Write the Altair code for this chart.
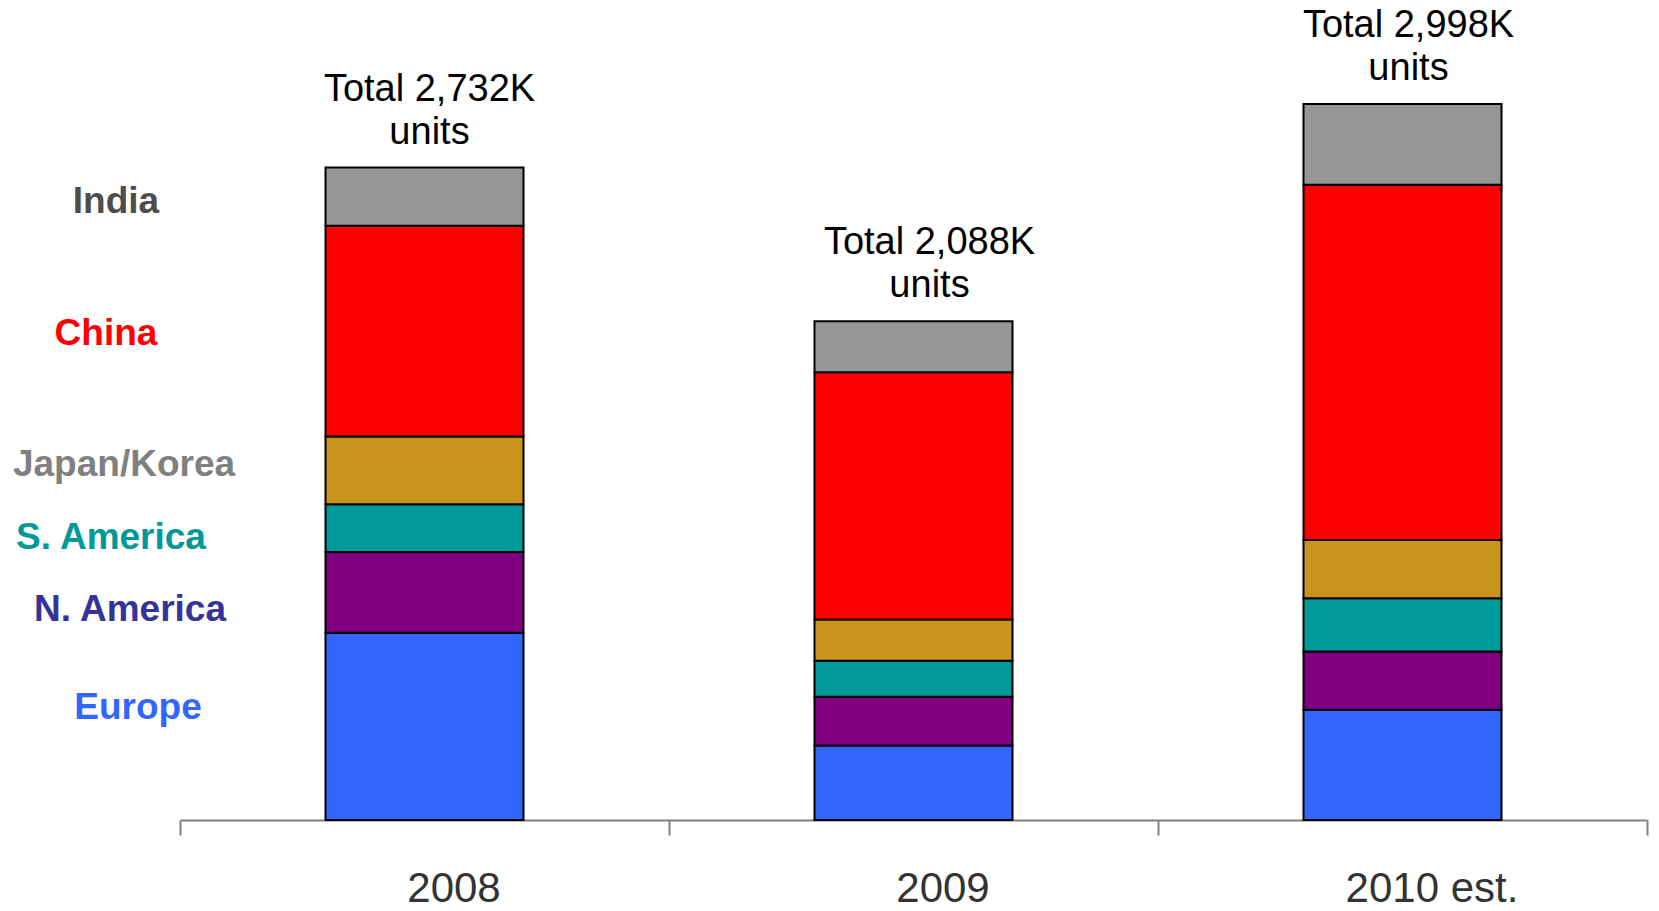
import altair as alt
import pandas as pd

years = ["2008", "2009", "2010 est."]
regions = ["Europe", "N. America", "S. America", "Japan/Korea", "China", "India"]
europe = [784, 312, 462]
n_america = [338, 204, 244]
s_america = [200, 151, 222]
japan_korea = [284, 173, 244]
china = [882, 1035, 1488]
india = [244, 213, 338]
totals = [2732, 2088, 2998]
total_labels = ["Total 2,732K\nunits", "Total 2,088K\nunits", "Total 2,998K\nunits"]

bar_colors = ["#3366FF", "#800080", "#009999", "#C8941C", "#FF0000", "#969696"]
label_colors = ["#3366FF", "#333399", "#009999", "#808080", "#FF0000", "#4D4D4D"]

series = [europe, n_america, s_america, japan_korea, china, india]
rows = []
for r_i, (reg, vals) in enumerate(zip(regions, series)):
    for y_i, yr in enumerate(years):
        rows.append({"year": yr, "region": reg, "value": vals[y_i], "rank": r_i})
df = pd.DataFrame(rows)
tot_df = pd.DataFrame({"year": years, "total": totals, "label": total_labels})

FONT = "Liberation Sans"
W, H = 1467, 812
YMAX = 3400

xscale = alt.Scale(domain=years, paddingInner=0, paddingOuter=0)
yscale = alt.Scale(domain=[0, YMAX])

bars = alt.Chart(df).mark_bar(size=198, stroke="black", strokeWidth=2).encode(
    x=alt.X("year:N", sort=years, scale=xscale, title=None,
            axis=alt.Axis(labelAngle=0, labelFont=FONT, labelFontSize=42,
                          labelColor="#333333", labelOffset=29,
                          labelBaseline="alphabetic", labelPadding=66,
                          tickBand="extent", tickSize=15, tickWidth=2,
                          tickColor="#808080", domainColor="#808080",
                          domainWidth=2, grid=False)),
    y=alt.Y("value:Q", stack="zero", scale=yscale, axis=None),
    color=alt.Color("region:N", scale=alt.Scale(domain=regions, range=bar_colors), legend=None),
    order=alt.Order("rank:Q"),
)

# horizontal nudges of the total annotations (pixels)
total_dx = {"2008": 5, "2009": 16, "2010 est.": 6}
tot_layers = []
for yr in years:
    tot_layers.append(
        alt.Chart(tot_df).transform_filter(alt.datum.year == yr).mark_text(
            font=FONT, fontSize=38, color="black", align="center",
            baseline="alphabetic", lineBreak="\n", lineHeight=43, dy=-67,
            dx=total_dx[yr]
        ).encode(
            x=alt.X("year:N", sort=years, scale=xscale),
            y=alt.Y("total:Q", scale=yscale),
            text="label:N",
        )
    )

# left-side region labels (annotation positions, in pixels relative to plot area)
label_pos = {
    "India": (-64, 194),
    "China": (-74, 326),
    "Japan/Korea": (-56, 457),
    "S. America": (-69, 530),
    "N. America": (-50, 602),
    "Europe": (-42, 700),
}
label_layers = []
for reg, col in zip(regions, label_colors):
    px, py = label_pos[reg]
    label_layers.append(
        alt.Chart(pd.DataFrame({"t": [reg]})).mark_text(
            font=FONT, fontSize=37, fontWeight="bold", color=col,
            align="center", baseline="middle"
        ).encode(x=alt.value(px), y=alt.value(py), text="t:N")
    )

chart = alt.layer(bars, *tot_layers, *label_layers).properties(
    width=W, height=H,
    autosize=alt.AutoSizeParams(type="none"),
    padding={"left": 172, "top": 0, "right": 4, "bottom": 91},
    background="white",
).configure_view(stroke=None)

chart.save("out.html", embed_options={"renderer": "svg", "actions": False})
